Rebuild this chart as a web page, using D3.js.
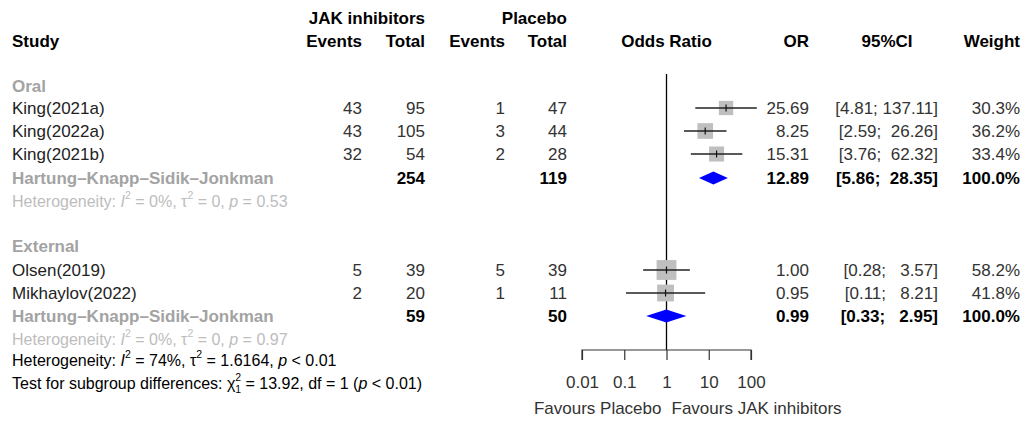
<!DOCTYPE html>
<html>
<head>
<meta charset="utf-8">
<script src="https://cdn.jsdelivr.net/npm/d3@7"></script>
<style>
  body { margin: 0; background: #fff; }
  text { font-family: 'Liberation Sans', Arial, Helvetica, sans-serif; font-size: 17px; white-space: pre; }
</style>
</head>
<body>
<div id="forest"></div>
<script>
const width = 1027
const height = 422

// study level data
const studies = ['King(2021a)', 'King(2022a)', 'King(2021b)', 'Olsen(2019)', 'Mikhaylov(2022)']
const groups = ['Oral', 'Oral', 'Oral', 'External', 'External']
const eventsJak = [43, 43, 32, 5, 2]
const totalJak = [95, 105, 54, 39, 20]
const eventsPbo = [1, 3, 2, 5, 1]
const totalPbo = [47, 44, 28, 39, 11]
const oddsRatio = [25.69, 8.25, 15.31, 1.0, 0.95]
const ciLower = [4.81, 2.59, 3.76, 0.28, 0.11]
const ciUpper = [137.11, 26.26, 62.32, 3.57, 8.21]
const weights = [30.3, 36.2, 33.4, 58.2, 41.8]

// subgroup pooled results
const subgroups = ['Oral', 'External']
const subTotalJak = [254, 59]
const subTotalPbo = [119, 50]
const subOR = [12.89, 0.99]
const subLower = [5.86, 0.33]
const subUpper = [28.35, 2.95]
const subI2 = ['0%', '0%']
const subTau2 = ['0', '0']
const subP = ['0.53', '0.97']

const axisTicks = [0.01, 0.1, 1, 10, 100]

const svg = d3
  .select('#forest')
  .append('svg')
  .attr('width', width)
  .attr('height', height)

const x = d3.scaleLog().domain([0.01, 100]).range([582, 751])
const boxSize = d3.scaleSqrt().domain([0, 100]).range([0, 26])

const grey = '#a3a3a3'
const lightGrey = '#bdbdbd'
const fmt2 = d3.format('.2f')

// row centres
const rowY = {
  header1: 18,
  header2: 41,
  Oral: { label: 86, studies: [108, 131, 154], pooled: 178, het: 201 },
  External: { label: 246, studies: [270, 293], pooled: 316, het: 339 },
  overallHet: 360,
  test: 383
}

function txt(xPos, y, s, anchor, opts = {}) {
  const t = svg
    .append('text')
    .attr('x', xPos)
    .attr('y', y)
    .attr('dominant-baseline', 'central')
    .attr('text-anchor', anchor)
    .attr('font-weight', opts.bold ? 'bold' : null)
    .attr('fill', opts.color || '#000')
    .text(s)
  if (opts.size) t.style('font-size', opts.size + 'px')
  return t
}

function ciString(lo, hi) {
  const l = fmt2(lo)
  let h = fmt2(hi)
  while (h.length < 6) h = ' ' + h
  return '[' + l + '; ' + h + ']'
}

const col = {
  study: 12,
  evJ: 362,
  totJ: 425,
  evP: 505,
  totP: 567,
  or: 809,
  ci: 938,
  w: 1020
}

// headers
txt(col.totJ, rowY.header1, 'JAK inhibitors', 'end', { bold: true })
txt(col.totP, rowY.header1, 'Placebo', 'end', { bold: true })
txt(col.study, rowY.header2, 'Study', 'start', { bold: true })
txt(col.evJ, rowY.header2, 'Events', 'end', { bold: true })
txt(col.totJ, rowY.header2, 'Total', 'end', { bold: true })
txt(col.evP, rowY.header2, 'Events', 'end', { bold: true })
txt(col.totP, rowY.header2, 'Total', 'end', { bold: true })
txt(x(1), rowY.header2, 'Odds Ratio', 'middle', { bold: true })
txt(col.or, rowY.header2, 'OR', 'end', { bold: true })
txt(887, rowY.header2, '95%CI', 'middle', { bold: true })
txt(col.w, rowY.header2, 'Weight', 'end', { bold: true })

// reference line at OR = 1
svg
  .append('line')
  .attr('x1', x(1))
  .attr('x2', x(1))
  .attr('y1', 74)
  .attr('y2', 350)
  .attr('stroke', '#000')
  .attr('stroke-width', 1.3)

const plot = svg.append('g')

// heterogeneity text: I^2, tau^2, p
function hetText(y, i2, tau2, pText, color) {
  const t = txt(col.study, y, '', 'start', { color: color, size: 16 })
  t.append('tspan').text('Heterogeneity: ')
  t.append('tspan').attr('font-style', 'italic').text('I')
  t.append('tspan').attr('font-size', 10.5).attr('dy', -6).text('2')
  t.append('tspan').attr('dy', 6).text(' = ' + i2 + ', \u03c4')
  t.append('tspan').attr('font-size', 10.5).attr('dy', -6).text('2')
  t.append('tspan').attr('dy', 6).text(' = ' + tau2 + ', ')
  t.append('tspan').attr('font-style', 'italic').text('p')
  t.append('tspan').text(pText)
  return t
}

subgroups.forEach((g, gi) => {
  const rows = rowY[g]
  txt(col.study, rows.label, g, 'start', { bold: true, color: grey })

  const idx = groups.map((d, i) => (d === g ? i : -1)).filter(i => i >= 0)
  idx.forEach((i, k) => {
    const y = rows.studies[k]
    txt(col.study, y, studies[i], 'start', { color: '#222' })
    txt(col.evJ, y, eventsJak[i], 'end', { color: '#333' })
    txt(col.totJ, y, totalJak[i], 'end', { color: '#333' })
    txt(col.evP, y, eventsPbo[i], 'end', { color: '#333' })
    txt(col.totP, y, totalPbo[i], 'end', { color: '#333' })
    txt(col.or, y, fmt2(oddsRatio[i]), 'end', { color: '#333' })
    txt(col.ci, y, ciString(ciLower[i], ciUpper[i]), 'end', { color: '#333' })
    txt(col.w, y, weights[i].toFixed(1) + '%', 'end', { color: '#333' })

    const s = boxSize(weights[i])
    plot
      .append('rect')
      .attr('x', x(oddsRatio[i]) - s / 2)
      .attr('y', y - s / 2)
      .attr('width', s)
      .attr('height', s)
      .attr('fill', '#bfbfbf')
    plot
      .append('line')
      .attr('x1', x(ciLower[i]))
      .attr('x2', x(ciUpper[i]))
      .attr('y1', y)
      .attr('y2', y)
      .attr('stroke', '#222')
      .attr('stroke-width', 1.3)
    plot
      .append('line')
      .attr('x1', x(oddsRatio[i]))
      .attr('x2', x(oddsRatio[i]))
      .attr('y1', y - 3.5)
      .attr('y2', y + 3.5)
      .attr('stroke', '#111')
      .attr('stroke-width', 1.2)
  })

  // pooled row
  const py = rows.pooled
  txt(col.study, py, 'Hartung\u2013Knapp\u2013Sidik\u2013Jonkman', 'start', { bold: true, color: grey })
  txt(col.totJ, py, subTotalJak[gi], 'end', { bold: true })
  txt(col.totP, py, subTotalPbo[gi], 'end', { bold: true })
  txt(col.or, py, fmt2(subOR[gi]), 'end', { bold: true })
  txt(col.ci, py, ciString(subLower[gi], subUpper[gi]), 'end', { bold: true })
  txt(col.w, py, '100.0%', 'end', { bold: true })

  const dh = 6.5
  plot
    .append('path')
    .attr(
      'd',
      `M${x(subLower[gi])},${py}L${x(subOR[gi])},${py - dh}L${x(subUpper[gi])},${py}L${x(subOR[gi])},${py + dh}Z`
    )
    .attr('fill', '#0000ff')

  hetText(rows.het, subI2[gi], subTau2[gi], ' = ' + subP[gi], lightGrey)
})

// overall heterogeneity and subgroup test
hetText(rowY.overallHet, '74%', '1.6164', ' < 0.01', '#000')

const tt = txt(col.study, rowY.test, '', 'start', { color: '#000', size: 16 })
tt.append('tspan').text('Test for subgroup differences: \u03c7')
tt.append('tspan').attr('font-size', 10.5).attr('dy', -6).text('2')
tt.append('tspan').attr('font-size', 10.5).attr('dx', -6).attr('dy', 12).text('1')
tt.append('tspan').attr('dy', -6).text(' = 13.92, df = 1 (')
tt.append('tspan').attr('font-style', 'italic').text('p')
tt.append('tspan').text(' < 0.01)')

// axis
const xAxis = d3
  .axisBottom(x)
  .tickValues(axisTicks)
  .tickSize(10)
  .tickPadding(16)
  .tickFormat(d => String(d))

const axisG = svg
  .append('g')
  .attr('class', 'axis x-axis')
  .attr('transform', 'translate(0,350)')
  .call(xAxis)

axisG.select('.domain').attr('d', `M${x(0.01)},10V0H${x(100)}V10`).attr('stroke', '#333').attr('stroke-width', 1.2)
axisG.selectAll('.tick line').attr('stroke', '#333').attr('stroke-width', 1.2)
axisG
  .selectAll('.tick text')
  .attr('font-family', null)
  .attr('font-size', null)
  .attr('fill', '#333')

txt(x(1) - 5, 408, 'Favours Placebo', 'end', { color: '#333' })
txt(x(1) + 5, 408, 'Favours JAK inhibitors', 'start', { color: '#333' })
</script>
</body>
</html>
